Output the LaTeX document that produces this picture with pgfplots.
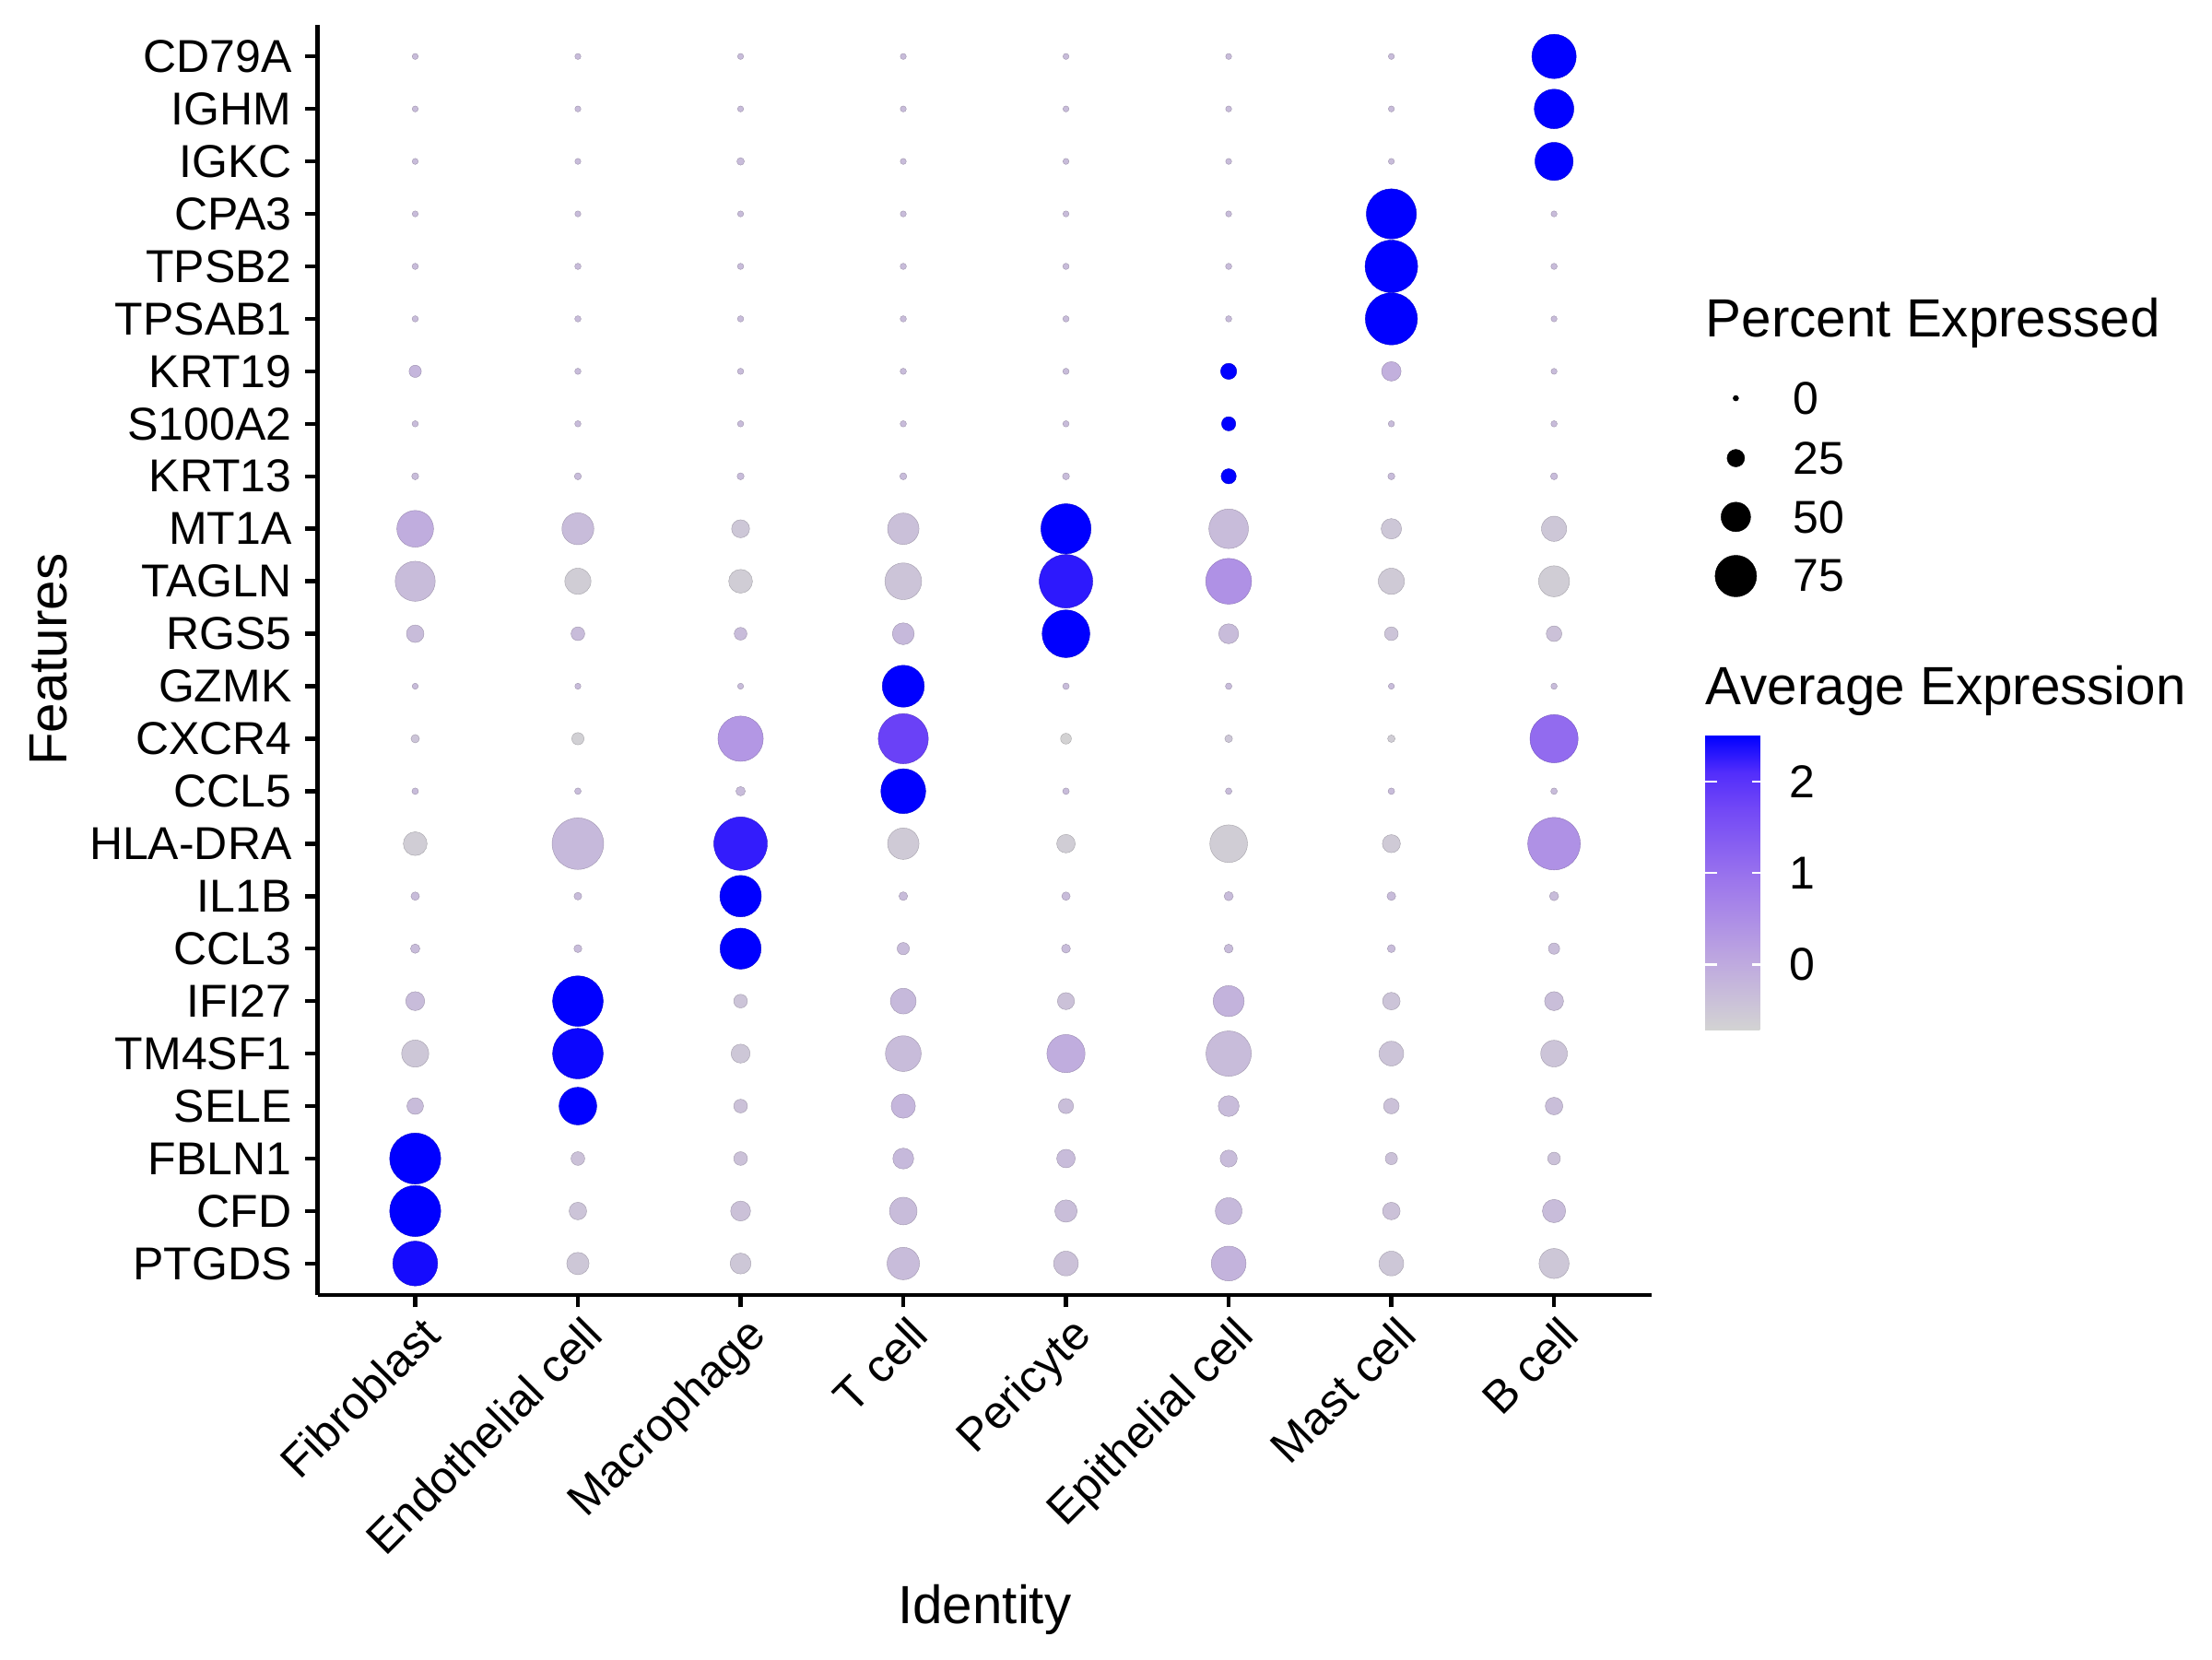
\documentclass[border=0pt]{standalone}
\usepackage{fontspec}
\setmainfont{Liberation Sans}
\usepackage{pgfplots}
\usepackage{pgfplotstable}
\pgfplotsset{compat=1.18}

% x: 1 Fibroblast, 2 Endothelial, 3 Macrophage, 4 T cell, 5 Pericyte, 6 Epithelial, 7 Mast, 8 B cell
% y: 1 PTGDS ... 24 CD79A ; p = percent expressed ; e = average expression (scaled)
\pgfplotstableread{
x y p e
1 1 82 2.4
2 1 35 -0.5
3 1 32 -0.5
4 1 56 -0.3
5 1 40 -0.4
6 1 61 -0.15
7 1 40 -0.5
8 1 51 -0.5
1 2 95 2.5
2 2 25 -0.45
3 2 30 -0.4
4 2 46 -0.3
5 2 35 -0.35
6 2 44 -0.25
7 2 25 -0.4
8 2 37 -0.3
1 3 95 2.5
2 3 17 -0.4
3 3 17 -0.4
4 3 32 -0.25
5 3 27 -0.3
6 3 24 -0.3
7 3 14 -0.4
8 3 15 -0.4
1 4 23 -0.3
2 4 67 2.5
3 4 17 -0.4
4 4 39 -0.2
5 4 20 -0.35
6 4 32 -0.3
7 4 21 -0.4
8 4 25 -0.35
1 5 45 -0.5
2 5 94 2.45
3 5 28 -0.5
4 5 63 -0.3
5 5 68 -0.05
6 5 83 -0.3
7 5 40 -0.45
8 5 44 -0.45
1 6 28 -0.3
2 6 94 2.5
3 6 17 -0.45
4 6 42 -0.25
5 6 24 -0.4
6 6 53 -0.15
7 6 25 -0.45
8 6 28 -0.35
1 7 8 -0.3
2 7 5 -0.3
3 7 74 2.5
4 7 14 -0.3
5 7 7 -0.3
6 7 7 -0.3
7 7 5 -0.3
8 7 12 -0.35
1 8 6 -0.3
2 8 4.5 -0.3
3 8 75 2.5
4 8 6.5 -0.3
5 8 6 -0.3
6 8 7.5 -0.3
7 8 6.5 -0.3
8 8 7.5 -0.3
1 9 38 -0.6
2 9 96 -0.25
3 9 100 2.25
4 9 54 -0.55
5 9 27 -0.6
6 9 67 -0.6
7 9 26 -0.55
8 9 98 0.45
1 10 2 -0.3
2 10 2 -0.3
3 10 8 -0.3
4 10 82 2.5
5 10 2 -0.3
6 10 2 -0.3
7 10 2 -0.3
8 10 2 -0.3
1 11 6 -0.45
2 11 14 -0.65
3 11 83 0.33
4 11 93 1.8
5 11 11 -0.7
6 11 4.5 -0.5
7 11 4 -0.6
8 11 89 1.1
1 12 1 -0.3
2 12 1 -0.3
3 12 1 -0.3
4 12 76 2.5
5 12 2 -0.3
6 12 2 -0.3
7 12 1 -0.3
8 12 1.5 -0.3
1 13 25 -0.3
2 13 17 -0.3
3 13 15 -0.3
4 13 34 -0.25
5 13 88 2.5
6 13 30 -0.3
7 13 17 -0.45
8 13 21 -0.4
1 14 72 -0.3
2 14 43 -0.6
3 14 38 -0.6
4 14 65 -0.45
5 14 100 2.28
6 14 84 0.45
7 14 43 -0.55
8 14 53 -0.6
1 15 65 -0.05
2 15 55 -0.3
3 15 26 -0.5
4 15 54 -0.38
5 15 93 2.5
6 15 71 -0.3
7 15 31 -0.5
8 15 41 -0.5
1 16 3 -0.3
2 16 3 -0.3
3 16 3 -0.3
4 16 3 -0.3
5 16 3 -0.3
6 16 20 2.5
7 16 3 -0.3
8 16 3 -0.3
1 17 1.5 -0.3
2 17 1.5 -0.3
3 17 1.5 -0.3
4 17 1.5 -0.3
5 17 1.5 -0.3
6 17 18 2.5
7 17 1.5 -0.3
8 17 1.5 -0.3
1 18 14 -0.2
2 18 1.5 -0.3
3 18 1.5 -0.3
4 18 1.5 -0.3
5 18 1.5 -0.3
6 18 22 2.5
7 18 29 -0.1
8 18 1 -0.3
1 19 1.5 -0.3
2 19 1.5 -0.3
3 19 1.5 -0.3
4 19 1.5 -0.3
5 19 1.5 -0.3
6 19 1.5 -0.3
7 19 97 2.5
8 19 1 -0.3
1 20 1.5 -0.3
2 20 1.5 -0.3
3 20 1.5 -0.3
4 20 1.5 -0.3
5 20 1.5 -0.3
6 20 1.5 -0.3
7 20 98 2.5
8 20 1.5 -0.3
1 21 1 -0.3
2 21 1 -0.3
3 21 1 -0.3
4 21 1 -0.3
5 21 1 -0.3
6 21 1 -0.3
7 21 93 2.5
8 21 1 -0.3
1 22 1 -0.3
2 22 1 -0.3
3 22 4 -0.3
4 22 1 -0.3
5 22 1 -0.3
6 22 1 -0.3
7 22 1 -0.3
8 22 68 2.5
1 23 1 -0.3
2 23 1 -0.3
3 23 1 -0.3
4 23 1 -0.3
5 23 1 -0.3
6 23 1 -0.3
7 23 1 -0.3
8 23 71 2.5
1 24 1 -0.3
2 24 1 -0.3
3 24 1 -0.3
4 24 1 -0.3
5 24 1 -0.3
6 24 1 -0.3
7 24 1 -0.3
8 24 81 2.5
}\dotdata

% legend of sizes, positioned in page points
\pgfplotstableread{
x y p
452 328.3 0
452 312.7 25
452 297.4 50
452 282.0 75
}\legdata

\begin{document}
\begin{tikzpicture}
\path[use as bounding box] (0,0) rectangle (576pt,432pt);
\begin{axis}[
  at={(82.7pt,94.8pt)}, anchor=south west,
  width=347.4pt, height=330.7pt, scale only axis,
  xmin=0.4, xmax=8.6, ymin=0.4, ymax=24.6,
  axis x line*=bottom, axis y line*=left,
  axis line style={line width=1.07pt, black},
  xtick={1,2,3,4,5,6,7,8},
  xticklabels={Fibroblast,Endothelial cell,Macrophage,T cell,Pericyte,Epithelial cell,Mast cell,B cell},
  ytick={1,2,...,24},
  yticklabels={PTGDS,CFD,FBLN1,SELE,TM4SF1,IFI27,CCL3,IL1B,HLA-DRA,CCL5,CXCR4,GZMK,RGS5,TAGLN,MT1A,KRT13,S100A2,KRT19,TPSAB1,TPSB2,CPA3,IGKC,IGHM,CD79A},
  tick align=outside, major tick length=3.2pt,
  tick style={black, line width=1.07pt},
  xticklabel style={rotate=45, anchor=north east, xshift=3pt, yshift=1.6pt, font=\fontsize{12}{14}\selectfont},
  yticklabel style={font=\fontsize{12}{14}\selectfont},
  colormap={seurat}{rgb255(0cm)=(211,211,211) rgb255(1cm)=(200,188,218) rgb255(2cm)=(188,165,224) rgb255(3cm)=(173,142,230) rgb255(4cm)=(157,119,236) rgb255(5cm)=(136,96,241) rgb255(6cm)=(114,72,246) rgb255(7cm)=(82,45,251) rgb255(8cm)=(0,0,255)},
  point meta min=-0.71, point meta max=2.5,
  colorbar,
  colorbar style={
    at={(parent axis.north east)}, anchor=north west,
    xshift=5.4pt, yshift=-185.0pt,
    width=15.4pt, height=76.6pt, scale only axis,
    axis lines=box,
    axis line style={draw=none},
    xtick=\empty,
    ytick={0,1,2},
    tick align=inside,
    major tick length=3.1pt,
    ytick pos=both,
    yticklabel pos=right,
    tick style={draw=white, line width=0.5pt},
    yticklabel style={font=\fontsize{12}{14}\selectfont, xshift=3.0pt},
    /pgf/number format/assume math mode=true,
  },
]
\addplot[scatter, only marks, mark=*, scatter src=explicit,
  visualization depends on={0.72+0.0624*\thisrow{p} \as \msize},
  scatter/@pre marker code/.append style={/tikz/mark size=\msize},
  mark options={line width=0.1pt}]
  table[x=x, y=y, meta=e] {\dotdata};
\end{axis}

\begin{axis}[
  at={(0pt,0pt)}, anchor=south west,
  width=576pt, height=432pt, scale only axis,
  xmin=0, xmax=576, ymin=0, ymax=432,
  hide axis, clip=false,
]
\addplot[scatter, only marks, mark=*,
  scatter/use mapped color={draw=black, fill=black},
  visualization depends on={0.72+0.0624*\thisrow{p} \as \msize},
  scatter/@pre marker code/.append style={/tikz/mark size=\msize},
  mark options={line width=0.1pt}]
  table[x=x, y=y] {\legdata};
\end{axis}

\node[anchor=base west, inner sep=0pt, font=\fontsize{14}{17}\selectfont] at (444pt,344.2pt) {Percent Expressed};
\node[anchor=west, inner sep=0pt, font=\fontsize{12}{14}\selectfont] at (466.8pt,328.3pt) {0};
\node[anchor=west, inner sep=0pt, font=\fontsize{12}{14}\selectfont] at (466.8pt,312.7pt) {25};
\node[anchor=west, inner sep=0pt, font=\fontsize{12}{14}\selectfont] at (466.8pt,297.4pt) {50};
\node[anchor=west, inner sep=0pt, font=\fontsize{12}{14}\selectfont] at (466.8pt,282.0pt) {75};
\node[anchor=base west, inner sep=0pt, font=\fontsize{14}{17}\selectfont] at (444pt,248.6pt) {Average Expression};
\node[anchor=base, inner sep=0pt, font=\fontsize{14}{17}\selectfont] at (256.4pt,9.3pt) {Identity};
\node[rotate=90, anchor=base, inner sep=0pt, font=\fontsize{14}{17}\selectfont] at (17.3pt,260.2pt) {Features};
\end{tikzpicture}
\end{document}
